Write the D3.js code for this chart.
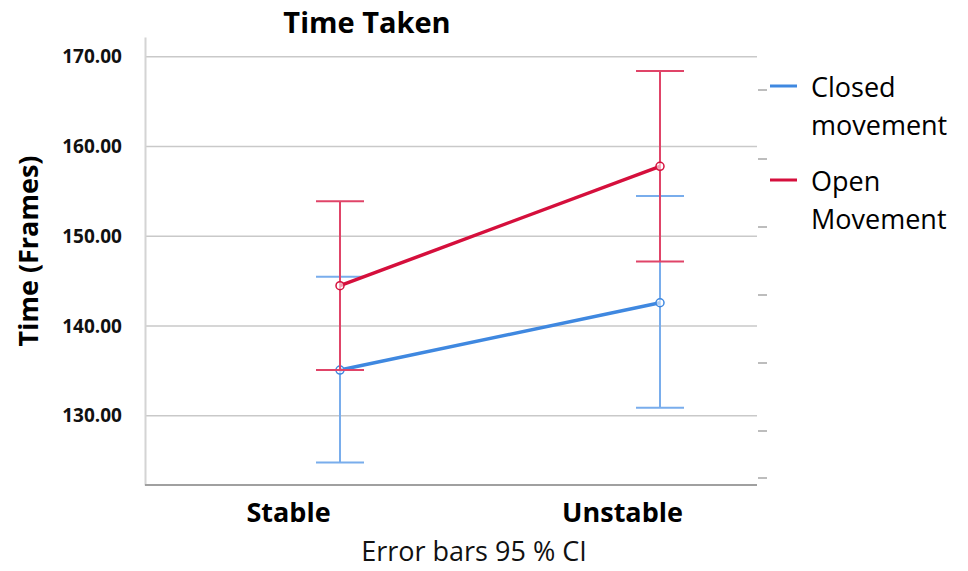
<!DOCTYPE html>
<html><head><meta charset="utf-8">
<script src="https://cdn.jsdelivr.net/npm/d3@7"></script>
<style>body{margin:0;background:#fff}svg{display:block}</style>
</head><body>
<svg id="c" width="968" height="571"></svg>
<script>
const categories = ["Stable", "Unstable"];
const seriesNames = ["Closed movement", "Open Movement"];
const closedMean = [135.1, 142.6];
const closedLow = [124.8, 130.9];
const closedHigh = [145.5, 154.5];
const openMean = [144.5, 157.8];
const openLow = [135.1, 147.2];
const openHigh = [153.9, 168.4];
const yTicks = [130, 140, 150, 160, 170];

const svg = d3.select("#c");
const font = "'Open Sans', 'Noto Sans', sans-serif";
const L = 145, R = 757, T = 37, B = 485;
const y = d3.scaleLinear().domain([122.3, 172.2]).range([B, T]);
const x = d3.scalePoint().domain(categories).range([340, 660]).padding(0);

// gridlines
svg.append("g").selectAll("line").data(yTicks).join("line")
  .attr("x1", L).attr("x2", R).attr("y1", d => y(d)).attr("y2", d => y(d))
  .attr("stroke", "#c9c9c9").attr("stroke-width", 1.5);

// left axis
const ya = d3.axisLeft(y).tickValues(yTicks).tickSize(0).tickPadding(23).tickFormat(d3.format(".2f"));
const yg = svg.append("g").attr("transform", `translate(${L},0)`).call(ya);
yg.select(".domain").attr("stroke", "#d4d4d4").attr("stroke-width", 2);
yg.selectAll("text").attr("font-family", font).attr("font-weight", "bold").attr("font-size", 19).attr("fill", "#111");

// bottom axis
const xa = d3.axisBottom(x).tickSize(0).tickPadding(0);
const xg = svg.append("g").attr("transform", `translate(0,${B})`).call(xa);
xg.select(".domain").attr("d", `M${L},0H${R}`).attr("stroke", "#a0a0a0").attr("stroke-width", 2);
xg.selectAll("text").attr("font-family", font).attr("font-weight", "bold").attr("font-size", 27)
  .attr("fill", "#000").attr("dx", (d, i) => i === 0 ? -52 : -38).attr("dy", 37);

// right side small ticks (artefact)
const rightTickY = [90, 159, 227, 295, 363, 431, 478];
svg.append("g").selectAll("line").data(rightTickY).join("line")
  .attr("x1", R + 1).attr("x2", R + 10)
  .attr("y1", d => d).attr("y2", d => d)
  .attr("stroke", "#bdbdbd").attr("stroke-width", 2);

function drawSeries(mean, low, high, color, barColor) {
  const g = svg.append("g");
  const cap = 24;
  categories.forEach((c, i) => {
    g.append("line").attr("x1", x(c)).attr("x2", x(c)).attr("y1", y(low[i])).attr("y2", y(high[i]))
      .attr("stroke", barColor).attr("stroke-width", 2);
    [low[i], high[i]].forEach(v => {
      g.append("line").attr("x1", x(c) - cap).attr("x2", x(c) + cap).attr("y1", y(v)).attr("y2", y(v))
        .attr("stroke", barColor).attr("stroke-width", 2);
    });
  });
  g.append("path").datum(mean)
    .attr("d", d3.line().x((d, i) => x(categories[i])).y(d => y(d)))
    .attr("fill", "none").attr("stroke", color).attr("stroke-width", 3.5);
  g.selectAll("circle").data(mean).join("circle")
    .attr("cx", (d, i) => x(categories[i])).attr("cy", d => y(d)).attr("r", 4)
    .attr("fill", "#fff").attr("fill-opacity", 0.6).attr("stroke", color).attr("stroke-width", 1.5);
}
drawSeries(closedMean, closedLow, closedHigh, "#3f88e0", "#79adec");
drawSeries(openMean, openLow, openHigh, "#d50f3c", "#e04468");

// title
svg.append("text").attr("x", 367).attr("y", 33).attr("text-anchor", "middle")
  .attr("font-family", font).attr("font-weight", "bold").attr("font-size", 29).attr("fill", "#000").text("Time Taken");

// y title
svg.append("text").attr("transform", "translate(38,251) rotate(-90)").attr("text-anchor", "middle")
  .attr("font-family", font).attr("font-weight", "bold").attr("font-size", 27).attr("fill", "#000").text("Time (Frames)");

// x subtitle
svg.append("text").attr("x", 474).attr("y", 561).attr("text-anchor", "middle")
  .attr("font-family", font).attr("font-size", 27).attr("fill", "#111").text("Error bars 95 % CI");

// legend
const legColors = ["#3f88e0", "#d50f3c"];
const legLines = [["Closed", "movement"], ["Open", "Movement"]];
const legY = [86, 180];
seriesNames.forEach((s, i) => {
  svg.append("line").attr("x1", 770).attr("x2", 797).attr("y1", legY[i]).attr("y2", legY[i])
    .attr("stroke", legColors[i]).attr("stroke-width", 3);
  const t = svg.append("text").attr("font-family", font).attr("font-size", 27).attr("fill", "#000");
  legLines[i].forEach((w, j) => {
    t.append("tspan").attr("x", 811).attr("y", legY[i] + 11 + j * 38).text(w);
  });
});
</script>
</body></html>
